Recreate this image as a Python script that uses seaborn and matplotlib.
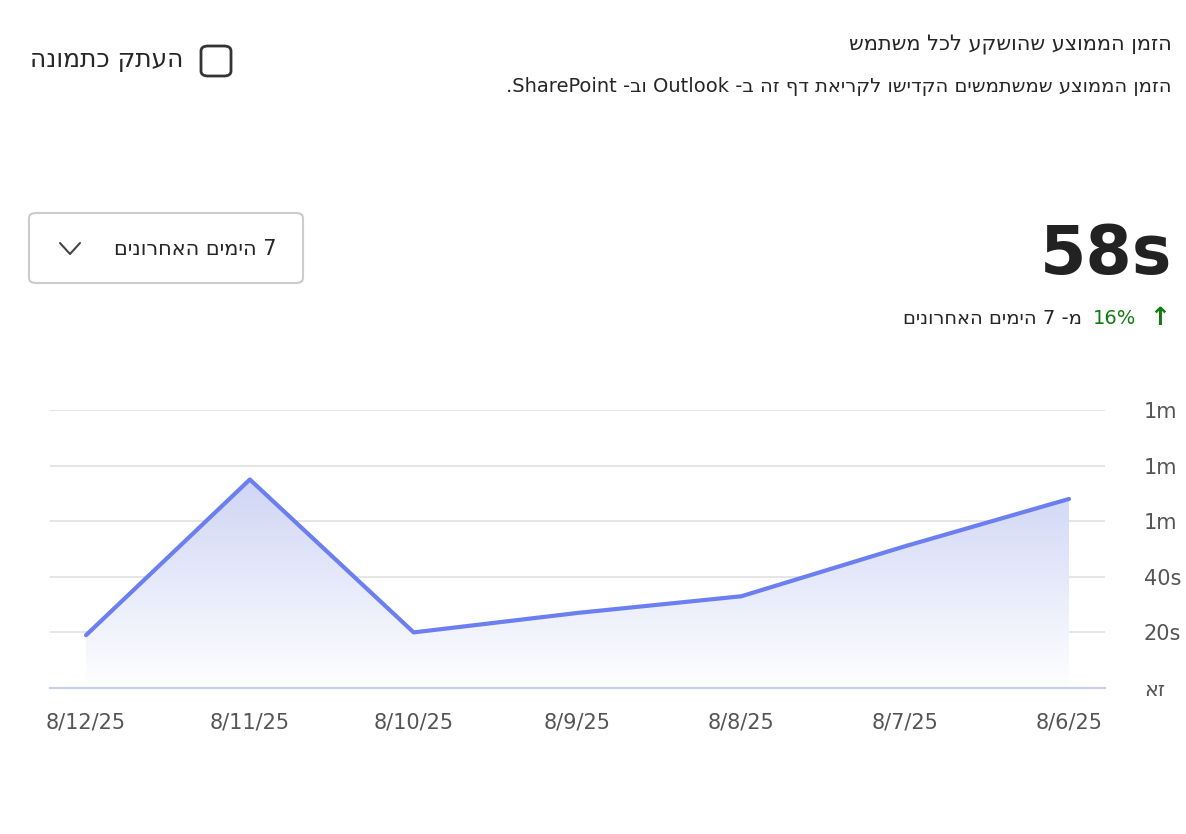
import numpy as np
import pandas as pd
import seaborn as sns
import matplotlib.pyplot as plt
from matplotlib.patches import FancyBboxPatch, Polygon
from matplotlib.colors import LinearSegmentedColormap

dates = ["8/6/25", "8/7/25", "8/8/25", "8/9/25", "8/10/25", "8/11/25", "8/12/25"]
seconds = [68, 51, 33, 27, 20, 75, 19]
y_ticks = [0, 20, 40, 60, 80, 100]
y_labels = ["אז", "20s", "40s", "1m", "1m", "1m"]


def heb(s):
    # visual order for plain Hebrew: reverse word order and letters
    out = []
    for w in s.split(" ")[::-1]:
        out.append(w[::-1] if any("\u0590" <= c <= "\u05ff" for c in w) else w)
    return " ".join(out)


sns.set_style("white")
plt.rcParams['font.family'] = ['DejaVu Sans']

fig = plt.figure(figsize=(11.86, 8.34), dpi=100)
ax = fig.add_axes([50 / 1186, 1 - 688 / 834, 1055 / 1186, 278 / 834])

df = pd.DataFrame({"x": range(len(dates)), "y": seconds})
line_color = "#6b7ff0"

# gradient fill under the line
verts = [(0, 0)] + list(zip(df.x, df.y)) + [(df.x.iloc[-1], 0)]
poly = Polygon(verts, closed=True, facecolor="none", edgecolor="none")
ax.add_patch(poly)
grad = np.linspace(0.05, 0.35, 256).reshape(-1, 1)
cmap = LinearSegmentedColormap.from_list("g", ["#ffffff", "#cfd5f5"])
im = ax.imshow(grad, extent=[0, 6, 0, 75], origin="lower", aspect="auto", cmap=cmap, vmin=0.05, vmax=0.35, zorder=1)
im.set_clip_path(poly)

sns.lineplot(data=df, x="x", y="y", ax=ax, color=line_color, linewidth=3, zorder=3)

ax.set_xlim(6.22, -0.22)
ax.set_ylim(0, 100)
ax.set_yticks(y_ticks)
ax.set_yticklabels(y_labels)
ax.yaxis.tick_right()
ax.set_xticks(range(len(dates)))
ax.set_xticklabels(dates)
ax.tick_params(axis="y", length=0, pad=28, labelsize=15, labelcolor="#555555")
ax.tick_params(axis="x", length=10, width=1, color="#c8cef0", pad=8, labelsize=15, labelcolor="#555555")
ax.grid(axis="y", color="#e0e0e0", linewidth=1.2)
ax.set_xlabel("")
ax.set_ylabel("")
for s in ["top", "left", "right"]:
    ax.spines[s].set_visible(False)
ax.spines["bottom"].set_color("#c8cef0")
ax.spines["bottom"].set_linewidth(1.5)

# header texts
fig.text(1172 / 1186, 1 - 45 / 834, heb("הזמן הממוצע שהושקע לכל משתמש"), ha="right", va="center", fontsize=15)
fig.text(1172 / 1186, 1 - 86 / 834,
         ".SharePoint -" + "בו" + " Outlook -ב " + heb("הזמן הממוצע שמשתמשים הקדישו לקריאת דף זה"),
         ha="right", va="center", fontsize=14)
fig.text(183 / 1186, 1 - 60 / 834, heb("העתק כתמונה"), ha="right", va="center", fontsize=18)
icon = FancyBboxPatch((201 / 1186, 1 - 76 / 834), 30 / 1186, 30 / 834, boxstyle="round,pad=0,rounding_size=0.006",
                      transform=fig.transFigure, facecolor="none", edgecolor="#333333", linewidth=2)
fig.patches.append(icon)

fig.text(1172 / 1186, 1 - 255 / 834, "58s", ha="right", va="center", fontsize=48, color="#222222", fontweight="bold")
fig.text(1170 / 1186, 1 - 318 / 834, "↑", ha="right", va="center", fontsize=18, color="#107c10", fontweight="bold")
fig.text(1136 / 1186, 1 - 318 / 834, "16%", ha="right", va="center", fontsize=14, color="#107c10")
fig.text(1082 / 1186, 1 - 318 / 834, heb("מ- 7 הימים האחרונים"), ha="right", va="center", fontsize=14)

box = FancyBboxPatch((29 / 1186, 1 - 283 / 834), 274 / 1186, 70 / 834, boxstyle="round,pad=0,rounding_size=0.006",
                     transform=fig.transFigure, facecolor="white", edgecolor="#cccccc", linewidth=1.5)
fig.patches.append(box)
fig.text(276 / 1186, 1 - 249 / 834, heb("7 הימים האחרונים"), ha="right", va="center", fontsize=15)
fig.add_artist(plt.Line2D([60 / 1186, 70 / 1186, 80 / 1186], [1 - 243 / 834, 1 - 254 / 834, 1 - 243 / 834],
                          transform=fig.transFigure, color="#444444", linewidth=1.5))

fig.savefig("out.png", dpi=100)
